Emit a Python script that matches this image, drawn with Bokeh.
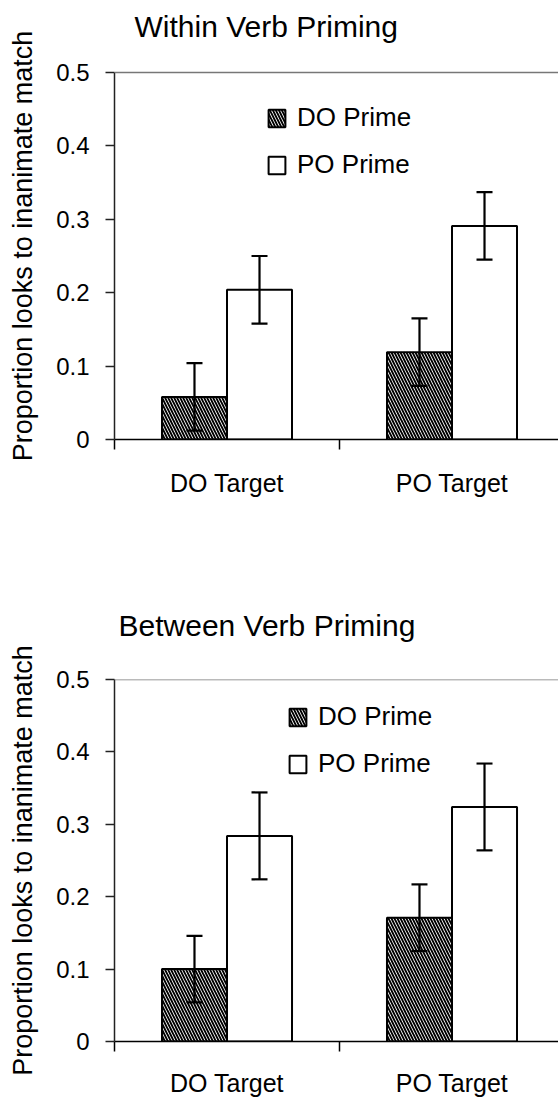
from bokeh.plotting import figure
from bokeh.models import (ColumnDataSource, Range1d, FixedTicker, Whisker, TeeHead,
                          Legend, LegendItem, Span, Title)
from bokeh.layouts import column
from bokeh.embed import file_html
from bokeh.resources import INLINE

# ---------------- data ----------------
categories = ["DO Target", "PO Target"]
series = ["DO Prime", "PO Prime"]
y_ticks = [0, 0.1, 0.2, 0.3, 0.4, 0.5]
y_tick_labels = ["0", "0.1", "0.2", "0.3", "0.4", "0.5"]
y_label = "Proportion looks to inanimate match"

within_title = "Within Verb Priming"
within_do = [0.058, 0.119]
within_do_err = [0.046, 0.046]
within_po = [0.204, 0.291]
within_po_err = [0.046, 0.046]

between_title = "Between Verb Priming"
between_do = [0.100, 0.171]
between_do_err = [0.046, 0.046]
between_po = [0.284, 0.324]
between_po_err = [0.060, 0.060]

FONT = "Liberation Sans"
BAR_W = 0.289
Y_MAX = 0.5


def make_chart(title, do_vals, do_err, po_vals, po_err, height, top_border,
               bottom_border, y_end, title_offset, title_standoff, legend_loc,
               xlabel_standoff):
    p = figure(width=558, height=height,
               x_range=Range1d(0, 444 / 225), y_range=Range1d(0, y_end),
               output_backend="svg", toolbar_location=None,
               min_border_left=114, min_border_right=0, min_border_top=top_border,
               min_border_bottom=bottom_border)
    p.grid.visible = False
    p.outline_line_color = None
    p.background_fill_color = "white"
    p.border_fill_color = "white"

    p.add_layout(Title(text=title, align="left", offset=title_offset,
                       standoff=title_standoff, vertical_align="top",
                       text_font=FONT, text_font_size="30px",
                       text_font_style="normal", text_color="black"), "above")

    n = len(categories)
    centers = [i + 0.5 for i in range(n)]
    src_do = ColumnDataSource(dict(
        x=[c - BAR_W / 2 for c in centers], top=do_vals,
        upper=[v + e for v, e in zip(do_vals, do_err)],
        lower=[v - e for v, e in zip(do_vals, do_err)]))
    src_po = ColumnDataSource(dict(
        x=[c + BAR_W / 2 for c in centers], top=po_vals,
        upper=[v + e for v, e in zip(po_vals, po_err)],
        lower=[v - e for v, e in zip(po_vals, po_err)]))

    r_do = p.vbar(x="x", top="top", bottom=0, width=BAR_W, source=src_do,
                  fill_color="white", line_color="black", line_width=2,
                  hatch_pattern="left_diagonal_line", hatch_color="black",
                  hatch_scale=6, hatch_weight=1.9)
    r_po = p.vbar(x="x", top="top", bottom=0, width=BAR_W, source=src_po,
                  fill_color="white", line_color="black", line_width=2)

    for src in (src_do, src_po):
        w = Whisker(base="x", upper="upper", lower="lower", source=src,
                    dimension="height", line_color="black", line_width=2.2,
                    upper_head=TeeHead(size=16, line_width=2.2, line_color="black"),
                    lower_head=TeeHead(size=16, line_width=2.2, line_color="black"),
                    level="overlay")
        p.add_layout(w)

    # top border of the plot area at 0.5
    p.add_layout(Span(location=Y_MAX, dimension="width", line_color="#777777",
                      line_width=1.5))

    # x axis
    xa = p.xaxis[0]
    xa.ticker = FixedTicker(ticks=centers, minor_ticks=[i for i in range(n + 1)])
    xa.major_label_overrides = dict(zip(centers, categories))
    xa.major_tick_out = 0
    xa.major_tick_in = 0
    xa.minor_tick_out = 10
    xa.minor_tick_in = 0
    xa.minor_tick_line_color = "black"
    xa.minor_tick_line_width = 1.5
    xa.axis_line_color = "black"
    xa.axis_line_width = 1.5
    xa.major_label_text_font = FONT
    xa.major_label_text_font_size = "25px"
    xa.major_label_text_color = "black"
    xa.major_label_standoff = xlabel_standoff

    # y axis
    ya = p.yaxis[0]
    ya.bounds = (0, Y_MAX)
    ya.ticker = FixedTicker(ticks=y_ticks)
    ya.major_label_overrides = dict(zip(y_ticks, y_tick_labels))
    ya.major_tick_out = 9
    ya.major_tick_in = 0
    ya.minor_tick_out = 0
    ya.minor_tick_in = 0
    ya.major_tick_line_color = "#222222"
    ya.major_tick_line_width = 1.5
    ya.axis_line_color = "#222222"
    ya.axis_line_width = 1.5
    ya.major_label_text_font = FONT
    ya.major_label_text_font_size = "24px"
    ya.major_label_text_color = "black"
    ya.major_label_standoff = 16
    ya.axis_label = y_label
    ya.axis_label_text_font = FONT
    ya.axis_label_text_font_size = "27px"
    ya.axis_label_text_font_style = "normal"
    ya.axis_label_text_color = "black"
    ya.axis_label_standoff = 15

    legend = Legend(items=[LegendItem(label=series[0], renderers=[r_do]),
                           LegendItem(label=series[1], renderers=[r_po])],
                    location=legend_loc, padding=0, margin=0, spacing=16,
                    glyph_width=21, glyph_height=22, label_standoff=10,
                    label_text_font=FONT, label_text_font_size="26px",
                    label_text_color="black",
                    background_fill_alpha=0, border_line_color=None)
    p.add_layout(legend)
    return p


# figure 1: canvas 0..572, frame 52..439 (0.5 drawn at 72)
p1 = make_chart(within_title, within_do, within_do_err, within_po, within_po_err,
                height=572, top_border=52, bottom_border=133,
                y_end=Y_MAX * (439 - 52) / (439 - 72),
                title_offset=20, title_standoff=16, legend_loc=(152, 259),
                xlabel_standoff=19)
# figure 2: canvas 572..1100, frame 679..1041
p2 = make_chart(between_title, between_do, between_do_err, between_po, between_po_err,
                height=528, top_border=107, bottom_border=59, y_end=Y_MAX,
                title_offset=4, title_standoff=71, legend_loc=(173, 262),
                xlabel_standoff=17)

layout = column(p1, p2, spacing=0)
open("out.html", "w").write(file_html(layout, INLINE))
